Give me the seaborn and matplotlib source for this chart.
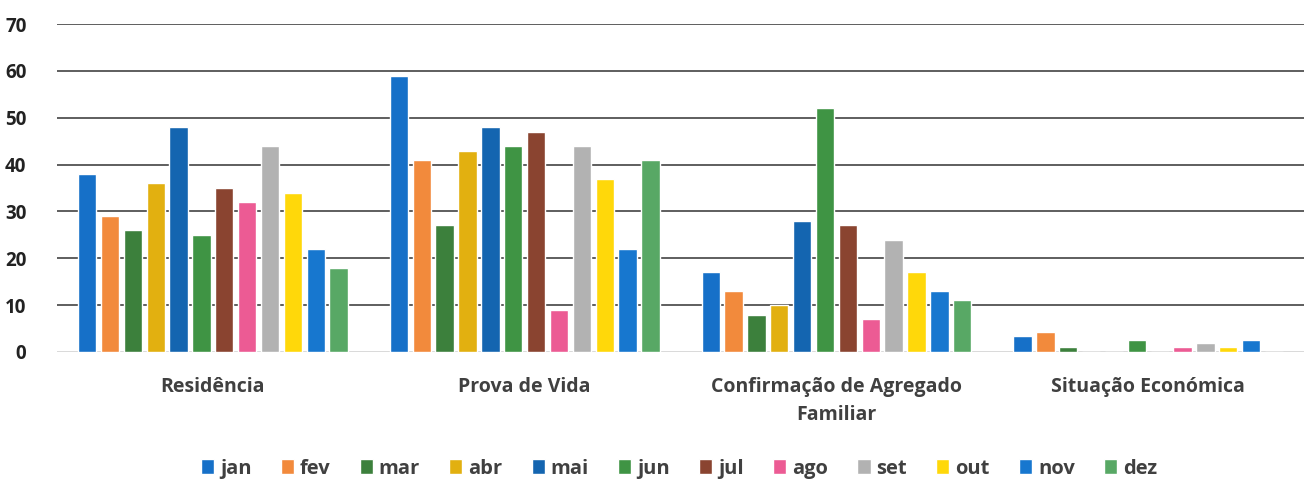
import numpy as np
import pandas as pd
import matplotlib.pyplot as plt
import seaborn as sns

# Chart data
categorias = ["Residência", "Prova de Vida", "Confirmação de Agregado\nFamiliar", "Situação Económica"]
meses = ["jan", "fev", "mar", "abr", "mai", "jun", "jul", "ago", "set", "out", "nov", "dez"]

residencia = [38, 29, 26, 36, 48, 25, 35, 32, 44, 34, 22, 18]
prova_vida = [59, 41, 27, 43, 48, 44, 47, 9, 44, 37, 22, 41]
agregado = [17, 13, 8, 10, 28, 52, 27, 7, 24, 17, 13, 11]
situacao = [3.5, 4.2, 1, 0, 0, 2.5, 0, 1, 2, 1, 2.5, 0]

cores = ["#1670C8", "#F28A3C", "#3C803C", "#E2B010", "#1465B0", "#3F9444",
         "#8A4430", "#EC5B94", "#B2B2B2", "#FFD80A", "#1777CF", "#58A865"]

series = [residencia, prova_vida, agregado, situacao]
df = pd.DataFrame([
    {"categoria": cat, "mes": m, "valor": v}
    for cat, vals in zip(categorias, series)
    for m, v in zip(meses, vals)
])

sns.set_theme(style="white")
plt.rcParams['font.family'] = ['Open Sans', 'DejaVu Sans']
texto = "#404040"

fig = plt.figure(figsize=(13.06, 4.8), dpi=100)
ax = fig.add_axes([0.0436, 0.2667, 0.955, 0.6833])

sns.barplot(data=df, x="categoria", y="valor", hue="mes", palette=cores,
            width=0.88, gap=0.2, saturation=1, ax=ax, legend=True)

ax.set_ylim(0, 70)
ax.set_xlim(-0.5, 3.5)
ax.set_yticks(np.arange(0, 71, 10))
ax.set_yticklabels([str(v) for v in range(0, 71, 10)], fontweight="bold",
                   fontsize=13.5, color="#222222")
ax.set_xticks(range(len(categorias)))
ax.set_xticklabels(categorias, fontweight="bold", fontsize=14, color=texto,
                   linespacing=1.55, va="top")
ax.set_axisbelow(True)
ax.yaxis.grid(True, color="#333333", lw=1.1)
ax.xaxis.grid(False)
gl = ax.get_ygridlines()
gl[0].set_color("#D0D0D0")
for s in ax.spines.values():
    s.set_visible(False)
ax.tick_params(axis="both", length=0)
ax.tick_params(axis="y", pad=22)
ax.tick_params(axis="x", pad=18)
ax.set_xlabel("")
ax.set_ylabel("")

handles, labels = ax.get_legend_handles_labels()
ax.get_legend().remove()
leg = fig.legend(handles, labels, loc="lower center", bbox_to_anchor=(0.52, -0.035),
                 ncol=12, frameon=False, handlelength=0.65, handleheight=0.75,
                 handletextpad=0.3, columnspacing=1.45,
                 prop={"weight": "bold", "size": 14.5})
for t in leg.get_texts():
    t.set_color(texto)

fig.savefig("out.png", dpi=100)
